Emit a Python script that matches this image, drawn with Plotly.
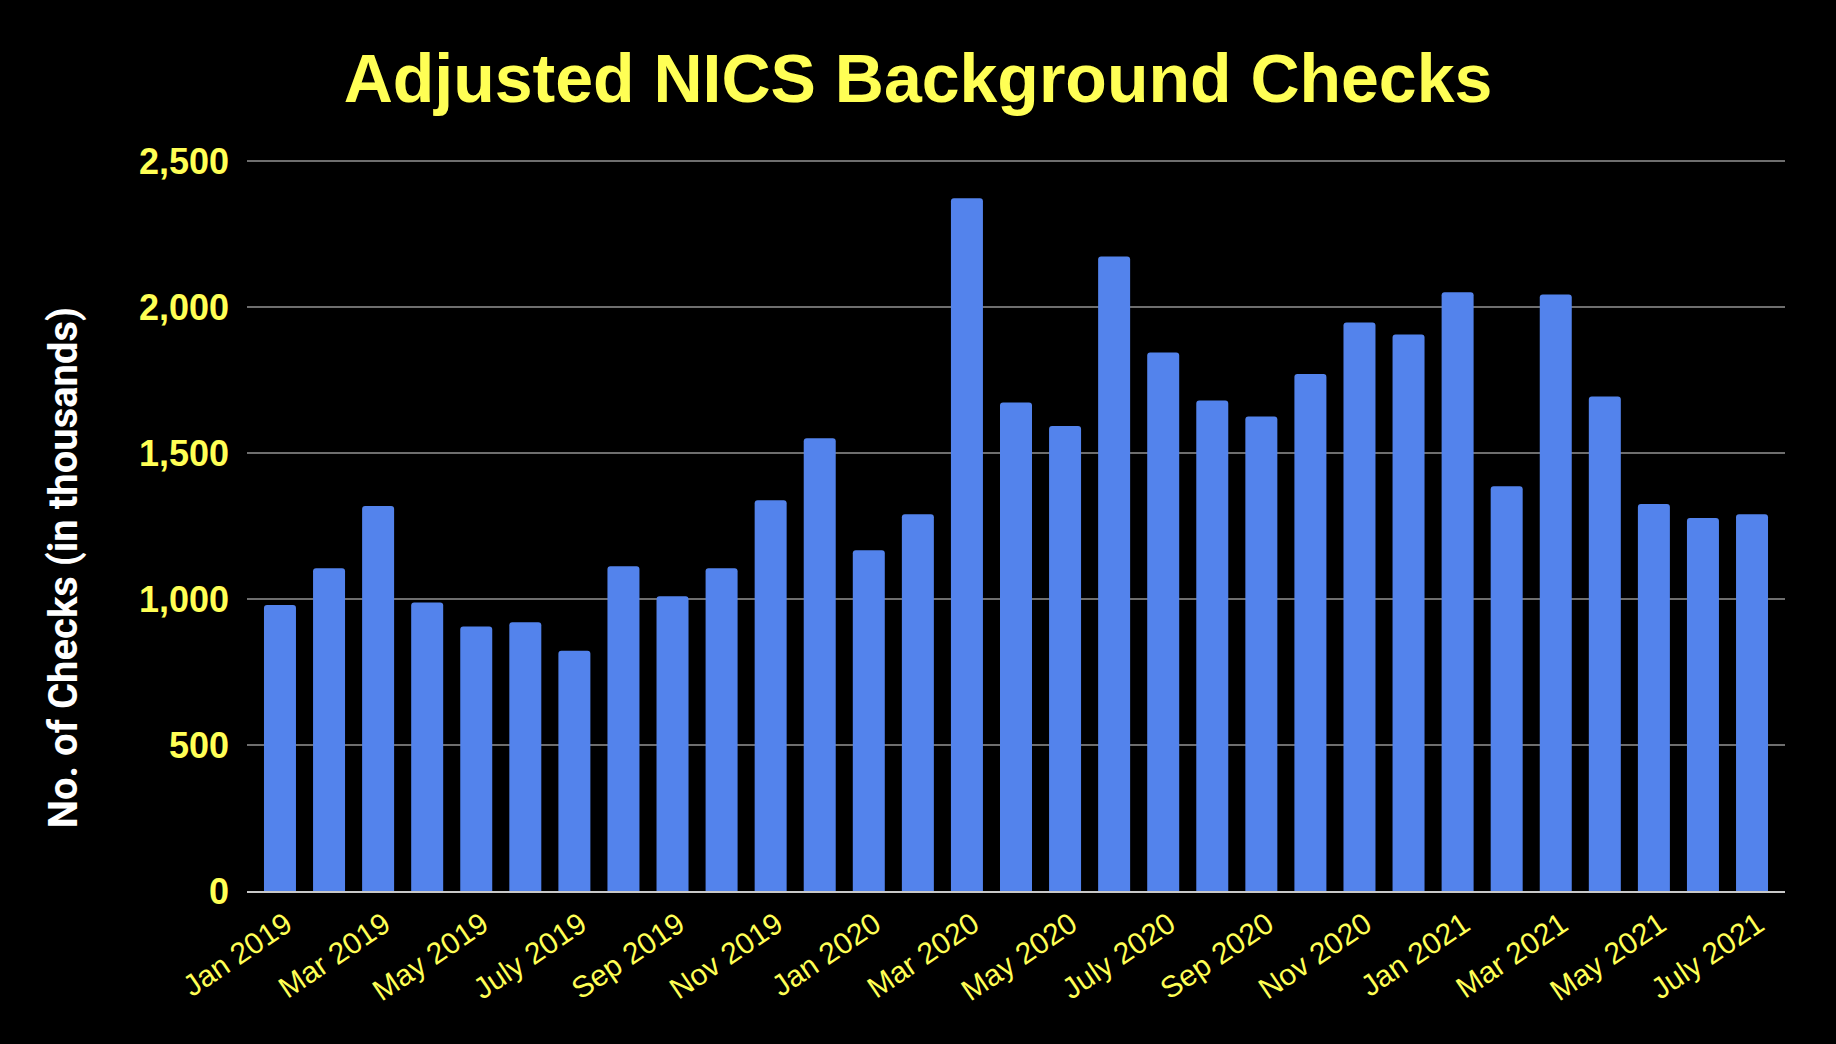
import plotly.graph_objects as go

months = ["Jan", "Feb", "Mar", "Apr", "May", "June", "July", "Aug", "Sep", "Oct", "Nov", "Dec"]
categories = [f"{m} {y}" for y in (2019, 2020, 2021) for m in months][:31]

checks = [979, 1105, 1318, 988, 906, 920, 823, 1112, 1009, 1105, 1338, 1550,
          1167, 1290, 2372, 1673, 1592, 2173, 1844, 1680, 1625, 1770, 1947, 1906,
          2050, 1386, 2043, 1693, 1325, 1277, 1290]

tick_labels = categories[::2]
y_ticks = [0, 500, 1000, 1500, 2000, 2500]
y_tick_text = ["0", "500", "1,000", "1,500", "2,000", "2,500"]

YELLOW = "#FFFF55"
W, H = 1836, 1044
Y_MAX = 2510
L, R, B = 247, 51, 153.3
PLOT_H = 730 * Y_MAX / 2500
T = H - B - PLOT_H

fig = go.Figure(go.Bar(
    x=categories, y=checks,
    marker=dict(color="#5383EC", line=dict(width=0), cornerradius=3),
    hoverinfo="x+y",
))

fig.update_layout(
    width=W, height=H,
    paper_bgcolor="#000000", plot_bgcolor="#000000",
    margin=dict(l=L, r=R, t=T, b=B, autoexpand=False),
    bargap=0.348,
    showlegend=False,
    title=dict(
        text="<b>Adjusted NICS Background Checks</b>",
        font=dict(family="Liberation Sans, Arial, sans-serif", size=68, color=YELLOW),
        x=0.5, xanchor="center", xref="container",
        y=1 - 78 / H, yanchor="middle",
    ),
    xaxis=dict(
        type="category",
        range=[-0.672, 30.672],
        tickmode="array", tickvals=tick_labels, ticktext=tick_labels,
        tickangle=-34,
        tickfont=dict(family="Liberation Sans, Arial, sans-serif", size=30, color=YELLOW),
        showgrid=False, showline=True, linecolor="#c8c8c8", linewidth=2,
        ticks="", zeroline=False, ticklabelstandoff=2, ticklabelshift=6,
    ),
    yaxis=dict(
        range=[0, Y_MAX],
        tickmode="array", tickvals=y_ticks, ticktext=y_tick_text,
        tickfont=dict(family="Liberation Sans, Arial, sans-serif", size=36,
                      color=YELLOW, weight="bold"),
        showgrid=True, gridcolor="#6e6e6e", gridwidth=1.5,
        zeroline=False, showline=False, ticks="", ticklabelstandoff=17,
    ),
    annotations=[dict(
        text="<b>No. of Checks (in thousands)</b>",
        textangle=-90,
        xref="paper", yref="paper",
        x=(63.5 - L) / (W - L - R), y=(890.7 - 567.5) / PLOT_H,
        xanchor="center", yanchor="middle", showarrow=False,
        font=dict(family="Roboto, sans-serif", size=40, color="#FFFFFF"),
    )],
)

fig.write_html(
    "out.html",
    config={"displayModeBar": False},
    post_script="document.body.style.margin='0';document.body.style.overflow='hidden';",
)
